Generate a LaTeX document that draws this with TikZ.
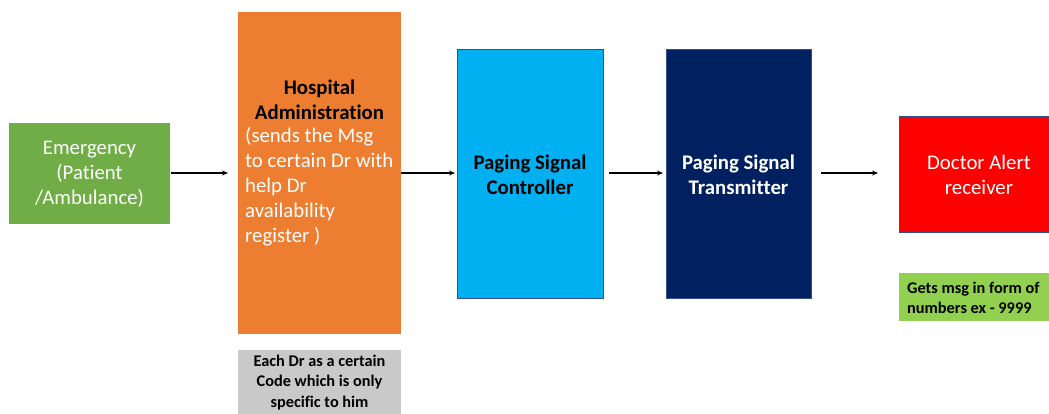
\documentclass[tikz,border=0pt]{standalone}
\usepackage{fontspec}
\setmainfont[Ligatures=NoCommon]{Carlito}
\usetikzlibrary{arrows.meta}
\definecolor{cgreen}{HTML}{70AD47}
\definecolor{corange}{HTML}{ED7D31}
\definecolor{cblue}{HTML}{00B0F0}
\definecolor{cnavy}{HTML}{002060}
\definecolor{cred}{HTML}{FF0000}
\definecolor{clgreen}{HTML}{92D050}
\definecolor{cgray}{HTML}{C9C9C9}
\definecolor{cedge}{HTML}{2F528F}
\tikzset{
  blk/.style={rectangle, inner sep=0pt, outer sep=0pt, anchor=north west},
  bigfont/.style={font=\fontsize{20.8}{25}\selectfont},
  bigtxt/.style={bigfont, align=center},
  smalltxt/.style={font=\bfseries\fontsize{16.3}{20.5}\selectfont},
  flow/.style={-{Stealth[length=6pt,width=5pt]}, line width=1.1pt, black}
}
\begin{document}
\begin{tikzpicture}[x=1pt,y=-1pt]
\useasboundingbox (0,0) rectangle (1049,414);
% boxes
\node[blk, fill=cgreen, minimum width=161, minimum height=101] (em) at (9,123) {};
\node[bigtxt, text=white] (emt) at (89.5,174) {Emergency\\(Patient\\/Ambulance)};

\node[blk, fill=corange, minimum width=163, minimum height=322] (hosp) at (238,12) {};
\node[font=\bfseries\fontsize{20.8}{25}\selectfont, align=center, anchor=north] (hospt) at (319.5,76) {Hospital\\Administration};
\node[bigfont, text=white, align=left, anchor=north west, inner sep=0pt] (hospb) at (245,127) {(sends the Msg\\to certain Dr with\\help Dr\\availability\\register )};

\node[blk, fill=cgray, minimum width=163, minimum height=64] (gray) at (238,350) {};
\node[smalltxt, align=center] (grayt) at (319.5,382.5) {Each Dr as a certain\\Code which is only\\specific to him};

\node[blk, fill=cblue, draw=cedge, line width=0.7pt, minimum width=146, minimum height=249] (ctrl) at (457,49) {};
\node[font=\bfseries\fontsize{20.8}{25}\selectfont, align=center] (ctrlt) at (530,175) {Paging Signal\\Controller};

\node[blk, fill=cnavy, draw=cedge, line width=0.7pt, minimum width=145, minimum height=249] (tx) at (666,49) {};
\node[font=\bfseries\fontsize{20.8}{25}\selectfont, text=white, align=center] (txt) at (738.5,175) {Paging Signal\\Transmitter};

\node[blk, fill=cred, draw=cedge, line width=0.7pt, minimum width=152, minimum height=116] (rx) at (899,116) {};
\node[bigtxt, text=white] (rxt) at (979,175) {Doctor Alert\\receiver};

\node[blk, fill=clgreen, minimum width=152, minimum height=48] (note) at (899,273) {};
\node[smalltxt, align=left, anchor=west, inner sep=0pt] (notet) at (907,298) {Gets msg in form of\\numbers ex - 9999};

% arrows
\draw[flow, shorten >=10pt, shorten <=1pt] (em.east |- 0,173) -- (hosp.west |- 0,173);
\draw[flow, shorten >=2pt] (hosp.east |- 0,173) -- (ctrl.west |- 0,173);
\draw[flow, shorten <=6pt, shorten >=3pt] (ctrl.east |- 0,173) -- (tx.west |- 0,173);
\draw[flow, shorten <=10pt, shorten >=21pt] (tx.east |- 0,173) -- (rx.west |- 0,173);
\end{tikzpicture}
\end{document}
